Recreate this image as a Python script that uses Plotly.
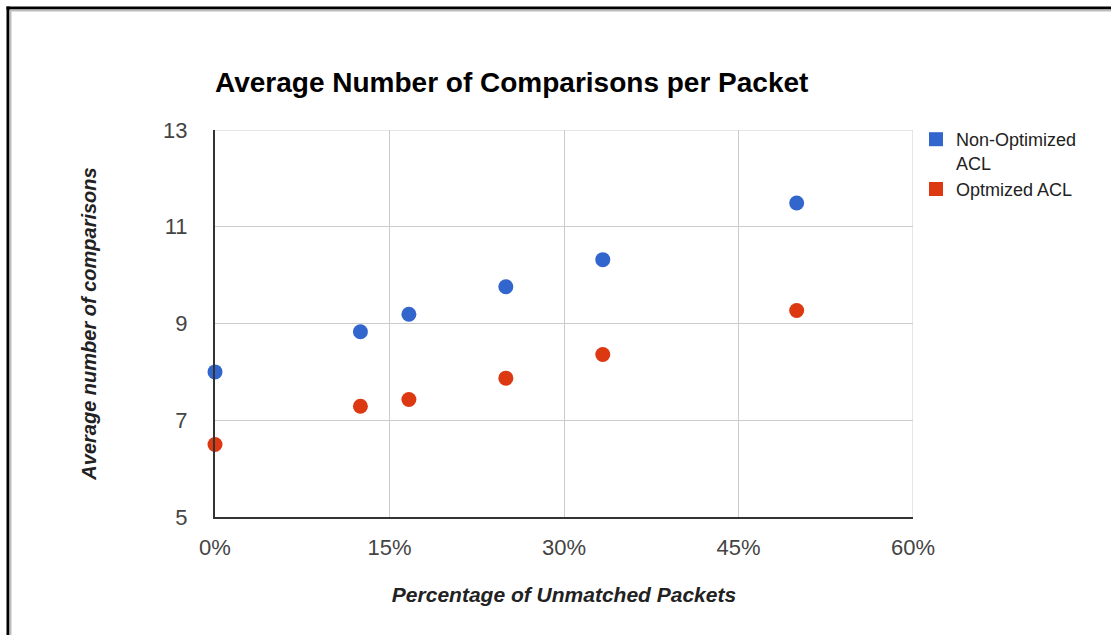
import plotly.graph_objects as go

# Share of unmatched packets (fraction) and average comparison counts
unmatched_share = [0.0, 0.125, 1 / 6, 0.25, 1 / 3, 0.5]
non_optimized = [8.0, 8.83, 9.19, 9.76, 10.32, 11.49]
optimized = [6.5, 7.29, 7.43, 7.87, 8.36, 9.27]

series_names = ["Non-Optimized<br>ACL", "Optmized ACL"]
series_colors = ["#3366cc", "#dc3912"]

x_ticks = [0.0, 0.15, 0.30, 0.45, 0.60]
x_tick_labels = ["0%", "15%", "30%", "45%", "60%"]
y_ticks = [5, 7, 9, 11, 13]

W, H = 1111, 635
ML, MR, MT, MB = 215, 198, 130, 118
PW, PH = W - ML - MR, H - MT - MB

fig = go.Figure()

for i, (ys, name, color) in enumerate(zip([non_optimized, optimized], series_names, series_colors)):
    fig.add_trace(go.Scatter(
        x=unmatched_share, y=ys, mode="markers", name=name,
        legendgroup=f"g{i}",
        marker=dict(color=color, size=15, line=dict(width=0)),
        showlegend=False, cliponaxis=False,
    ))
    # square swatch for the legend
    fig.add_trace(go.Scatter(
        x=[None], y=[None], mode="markers", name=name,
        legendgroup=f"g{i}",
        marker=dict(color=color, size=14, symbol="square", line=dict(width=0)),
    ))


def px_x(p):
    return (p - ML) / PW


def px_y(p):
    return (H - MB - p) / PH


# page frame: dark rule with a light inner edge along the top and left
shapes = [
    dict(type="line", xref="paper", yref="paper", x0=px_x(6.5), x1=px_x(W + 5),
         y0=px_y(8), y1=px_y(8), line=dict(color="#000000", width=3)),
    dict(type="line", xref="paper", yref="paper", x0=px_x(8), x1=px_x(8),
         y0=px_y(6.5), y1=px_y(H + 5), line=dict(color="#000000", width=3)),
    dict(type="line", xref="paper", yref="paper", x0=px_x(10), x1=px_x(W + 5),
         y0=px_y(10.5), y1=px_y(10.5), line=dict(color="#bdbdbd", width=2)),
    dict(type="line", xref="paper", yref="paper", x0=px_x(10.5), x1=px_x(10.5),
         y0=px_y(10), y1=px_y(H + 5), line=dict(color="#bdbdbd", width=2)),
]

fig.update_layout(
    width=W, height=H,
    margin=dict(l=ML, r=MR, t=MT, b=MB, autoexpand=False),
    paper_bgcolor="white", plot_bgcolor="white",
    font=dict(family="Liberation Sans, Arial, sans-serif", color="#444444"),
    title=dict(
        text="<b>Average Number of Comparisons per Packet</b>",
        x=ML / W, xref="container", xanchor="left",
        y=1 - 82 / H, yref="container", yanchor="middle",
        font=dict(size=28, color="#000000"),
    ),
    showlegend=True,
    legend=dict(
        x=px_x(916), y=px_y(121), xref="paper", yref="paper",
        xanchor="left", yanchor="top",
        font=dict(size=18, color="#222222"),
        itemsizing="trace", itemwidth=30, tracegroupgap=0,
        valign="top",
        bgcolor="rgba(0,0,0,0)",
    ),
    xaxis=dict(
        range=[0, 0.6], tickvals=x_ticks, ticktext=x_tick_labels,
        showgrid=True, gridcolor="#cccccc", gridwidth=1,
        showline=True, linecolor="#333333", linewidth=2,
        zeroline=False, ticks="", ticklabelstandoff=10,
        tickfont=dict(size=22, color="#444444"),
        title=dict(text="<b><i>Percentage of Unmatched Packets</i></b>",
                   font=dict(size=21, color="#222222"), standoff=28),
        fixedrange=True,
    ),
    yaxis=dict(
        range=[5, 13], tickvals=y_ticks,
        showgrid=True, gridcolor="#cccccc", gridwidth=1,
        showline=True, linecolor="#333333", linewidth=2,
        zeroline=False, ticks="", ticklabelstandoff=21,
        tickfont=dict(size=22, color="#444444"),
        title=dict(text="<b><i>Average number of comparisons</i></b>",
                   font=dict(size=20, color="#222222"), standoff=61),
        fixedrange=True,
    ),
    shapes=shapes,
)

# outer grid lines at 60% and 13
fig.add_shape(type="line", xref="x", yref="y", x0=0.6, x1=0.6, y0=5, y1=13,
              line=dict(color="#cccccc", width=1), layer="below")
fig.add_shape(type="line", xref="x", yref="y", x0=0, x1=0.6, y0=13, y1=13,
              line=dict(color="#cccccc", width=1), layer="below")

fig.write_html("out.html")
